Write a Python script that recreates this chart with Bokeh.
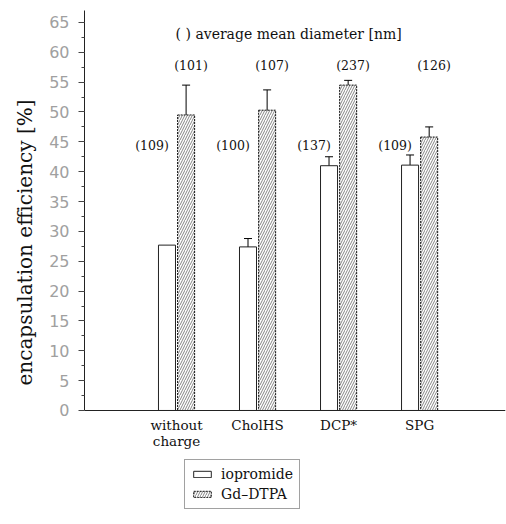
from bokeh.plotting import figure
from bokeh.models import (Range1d, ColumnDataSource, Whisker, TeeHead, FixedTicker,
                          SingleIntervalTicker, Legend, LegendItem, Title)
from bokeh.core.properties import value
from bokeh.embed import file_html
from bokeh.resources import INLINE

# ---- data ----
categories = ["without\ncharge", "CholHS", "DCP*", "SPG"]
iopromide = [27.7, 27.4, 41.0, 41.1]
iopromide_err = [0.0, 1.4, 1.5, 1.7]
gd_dtpa = [49.5, 50.3, 54.5, 45.8]
gd_dtpa_err = [5.0, 3.4, 0.8, 1.7]
iopromide_diam = ["(109)", "(100)", "(137)", "(109)"]
gd_dtpa_diam = ["(101)", "(107)", "(237)", "(126)"]

SERIF = "DejaVu Serif"

xs = [i + 1 for i in range(len(categories))]
W = 0.21
OFF = 0.118

src_io = ColumnDataSource(dict(
    x=[x - OFF for x in xs], top=iopromide,
    lx=[x - OFF - 0.185 for x in xs], ly=[44.4] * len(xs), lab=iopromide_diam))
src_gd = ColumnDataSource(dict(
    x=[x + OFF for x in xs], top=gd_dtpa,
    up=[v + e for v, e in zip(gd_dtpa, gd_dtpa_err)],
    lo=[v - e for v, e in zip(gd_dtpa, gd_dtpa_err)],
    lx=[x + OFF + 0.06 for x in xs], ly=[57.8] * len(xs), lab=gd_dtpa_diam))

p = figure(width=506, height=524, output_backend="svg", toolbar_location=None,
           x_range=Range1d(-0.136, 5.06), y_range=Range1d(-19.1, 67),
           min_border_left=84, min_border_right=1, min_border_top=10,
           min_border_bottom=0)
p.outline_line_color = None
p.grid.visible = False
p.background_fill_color = "white"
p.border_fill_color = "white"

r_io = p.vbar(x="x", top="top", width=W, source=src_io, fill_color="white",
              line_color="#222222", line_width=1)
r_gd = p.vbar(x="x", top="top", width=W, source=src_gd, fill_color="white",
              line_color="#111111", line_width=1, line_dash="2 1",
              hatch_pattern="/", hatch_color="#333333", hatch_scale=5,
              hatch_weight=0.6)

# error bars (iopromide only where an error exists)
src_io_err = ColumnDataSource(dict(
    x=[x - OFF for x, e in zip(xs, iopromide_err) if e > 0],
    up=[v + e for v, e in zip(iopromide, iopromide_err) if e > 0],
    lo=[v - e for v, e in zip(iopromide, iopromide_err) if e > 0]))
for s in (src_io_err, src_gd):
    wk = Whisker(base="x", upper="up", lower="lo", source=s, line_color="black",
                 line_width=1,
                 upper_head=TeeHead(size=8, line_color="black", line_width=1),
                 lower_head=TeeHead(size=8, line_color="black", line_width=1))
    p.add_layout(wk)

p.text(x="lx", y="ly", text="lab", source=src_io, text_align="center",
       text_baseline="middle", text_font=value(SERIF), text_font_size="12.5px",
       text_color="#111111")
p.text(x="lx", y="ly", text="lab", source=src_gd, text_align="center",
       text_baseline="middle", text_font=value(SERIF), text_font_size="12.5px",
       text_color="#111111")

p.text(x=[2.383], y=[63.0], text=["( ) average mean diameter [nm]"],
       text_align="center", text_baseline="middle", text_font=value(SERIF),
       text_font_size="14px", text_color="#111111")

# axes
yax = p.yaxis[0]
yax.ticker = SingleIntervalTicker(interval=5, num_minor_ticks=2)
yax.bounds = (0, 67)
yax.major_label_text_font = "DejaVu Sans"
yax.major_label_text_font_size = "16px"
yax.major_label_text_color = "#a0a0a0"
yax.major_label_standoff = 9
yax.major_tick_out = 6
yax.major_tick_in = 0
yax.minor_tick_out = 3
yax.minor_tick_in = 0
yax.major_tick_line_color = "#444444"
yax.minor_tick_line_color = "#444444"
yax.axis_line_color = "#222222"

ylab = Title(text="encapsulation efficiency [%]", align="left", offset=139,
             text_font=SERIF, text_font_size="20px", text_font_style="normal",
             text_color="#111111", standoff=20)
p.add_layout(ylab, "left")

xax = p.xaxis[0]
xax.fixed_location = 0
xax.ticker = FixedTicker(ticks=xs)
xax.major_label_overrides = {x: c for x, c in zip(xs, categories)}
xax.major_tick_line_color = None
xax.minor_tick_line_color = None
xax.major_label_text_font = SERIF
xax.major_label_text_font_size = "13.5px"
xax.major_label_text_line_height = 1.0
xax.major_label_text_color = "#111111"
xax.major_label_standoff = 1
xax.axis_line_color = "#222222"

legend = Legend(items=[LegendItem(label="iopromide", renderers=[r_io]),
                       LegendItem(label="Gd–DTPA", renderers=[r_gd])],
                location=(100, 15), orientation="vertical",
                label_text_font=SERIF, label_text_font_size="14px",
                label_text_color="#111111", glyph_width=22, glyph_height=8,
                label_standoff=8, padding=6, spacing=4,
                border_line_color="#444444", border_line_width=1,
                background_fill_color="white", background_fill_alpha=1.0)
p.add_layout(legend, "center")

open("out.html", "w").write(file_html(p, INLINE))
